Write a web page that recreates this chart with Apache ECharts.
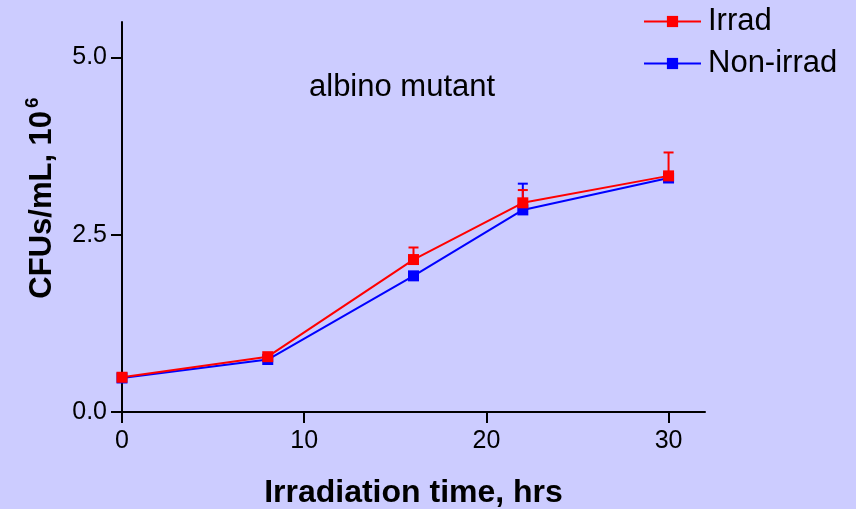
<!DOCTYPE html>
<html>
<head>
<meta charset="utf-8">
<script src="https://cdn.jsdelivr.net/npm/echarts@6/dist/echarts.min.js"></script>
<style>
  html, body { margin: 0; padding: 0; background: #ccccff; }
  #chart { width: 856px; height: 509px; }
</style>
</head>
<body>
<div id="chart"></div>
<script>
// Sampling times (hrs)
const times = [0, 8, 16, 22, 30];
// CFUs/mL (x10^6), irradiated cultures, with upper error (SD)
const irrad = [0.49, 0.78, 2.15, 2.95, 3.33];
const irradErr = [0, 0, 0.17, 0.18, 0.33];
// CFUs/mL (x10^6), non-irradiated cultures, with upper error (SD)
const nonIrrad = [0.48, 0.74, 1.92, 2.85, 3.30];
const nonIrradErr = [0, 0, 0, 0.37, 0];
// Axis tick values
const xTicks = [0, 10, 20, 30];
const yTicks = [0, 2.5, 5];

const RED = '#ff0000';
const BLUE = '#0000ff';
const FONT = '"Liberation Sans", Arial, Helvetica, sans-serif';

function pairs(xs, ys) { return xs.map((x, i) => [x, ys[i]]); }

// One-sided (upper) error bar drawn through the axes' coordinate system
function errorSeries(name, xs, ys, errs, color, z) {
  const data = xs.map((x, i) => [x, ys[i], ys[i] + errs[i], errs[i]]).filter(d => d[3] > 0);
  return {
    name: name,
    type: 'custom',
    z: z,
    silent: true,
    data: data,
    encode: { x: 0, y: [1, 2] },
    renderItem: function (params, api) {
      const lo = api.coord([api.value(0), api.value(1)]);
      const hi = api.coord([api.value(0), api.value(2)]);
      const hw = 5;
      const style = { stroke: color, lineWidth: 2, fill: null };
      return {
        type: 'group',
        children: [
          { type: 'line', shape: { x1: lo[0], y1: lo[1], x2: hi[0], y2: hi[1] }, style: style },
          { type: 'line', shape: { x1: hi[0] - hw, y1: hi[1], x2: hi[0] + hw, y2: hi[1] }, style: style }
        ]
      };
    }
  };
}

const chart = echarts.init(document.getElementById('chart'), null, { renderer: 'canvas' });

chart.setOption({
  backgroundColor: '#ccccff',
  animation: false,
  textStyle: { fontFamily: FONT },
  title: {
    text: 'albino mutant',
    left: 309,
    top: 72,
    padding: 0,
    textStyle: { fontFamily: FONT, fontSize: 31, fontWeight: 'normal', color: '#000' }
  },
  legend: {
    orient: 'vertical',
    left: 643,
    top: 6,
    padding: 0,
    itemWidth: 57,
    itemHeight: 14,
    itemGap: 11,
    data: ['Irrad', 'Non-irrad'],
    textStyle: { fontFamily: FONT, fontSize: 31, color: '#000', padding: [0, 0, 0, 2] }
  },
  grid: { left: 122, right: 151, top: 22, bottom: 97, outerBoundsMode: 'none', containLabel: false },
  xAxis: {
    type: 'value',
    min: 0,
    max: 32,
    name: 'Irradiation time, hrs',
    nameLocation: 'middle',
    nameGap: 65,
    nameTextStyle: { fontFamily: FONT, fontSize: 32, fontWeight: 'bold', color: '#000' },
    axisLine: { show: true, onZero: false, lineStyle: { color: '#000', width: 2 } },
    axisTick: { show: true, length: 11, customValues: xTicks, lineStyle: { color: '#000', width: 2 } },
    axisLabel: { customValues: xTicks, margin: 17, fontSize: 25, color: '#000', fontFamily: FONT },
    splitLine: { show: false }
  },
  yAxis: {
    type: 'value',
    min: 0,
    max: 5.5,
    name: '{a|CFUs/mL, 10}{s|6}',
    nameLocation: 'middle',
    nameRotate: 90,
    nameGap: 60,
    nameTextStyle: {
      fontFamily: FONT, fontWeight: 'bold', color: '#000', padding: [0, 0, 0, 38],
      rich: {
        a: { fontFamily: FONT, fontSize: 31, fontWeight: 'bold', color: '#000', lineHeight: 38 },
        s: { fontFamily: FONT, fontSize: 19, fontWeight: 'bold', color: '#000', padding: [0, 0, 20, 3] }
      }
    },
    axisLine: { show: true, onZero: false, lineStyle: { color: '#000', width: 2 } },
    axisTick: { show: true, length: 11, customValues: yTicks, lineStyle: { color: '#000', width: 2 } },
    axisLabel: {
      customValues: yTicks, margin: 15, fontSize: 25, color: '#000', fontFamily: FONT,
      formatter: v => v.toFixed(1)
    },
    splitLine: { show: false }
  },
  series: [
    {
      name: 'Non-irrad',
      type: 'line',
      z: 2,
      data: pairs(times, nonIrrad),
      symbol: 'rect',
      symbolSize: 11,
      lineStyle: { color: BLUE, width: 2 },
      itemStyle: { color: BLUE },
      emphasis: { disabled: true }
    },
    {
      name: 'Irrad',
      type: 'line',
      z: 5,
      data: pairs(times, irrad),
      symbol: 'rect',
      symbolSize: 11,
      lineStyle: { color: RED, width: 2 },
      itemStyle: { color: RED },
      emphasis: { disabled: true }
    },
    errorSeries('Non-irrad SD', times, nonIrrad, nonIrradErr, BLUE, 3),
    errorSeries('Irrad SD', times, irrad, irradErr, RED, 4)
  ]
});
</script>
</body>
</html>
